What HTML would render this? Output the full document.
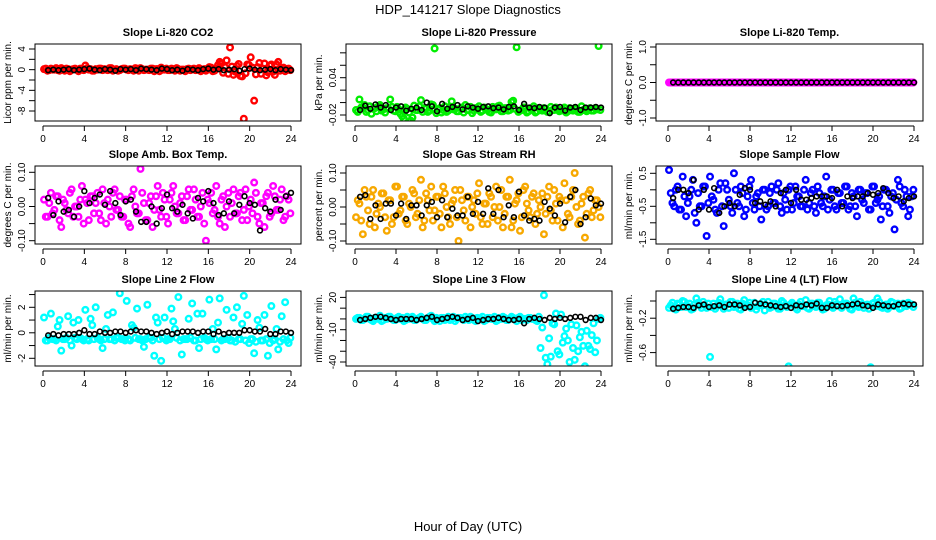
<!DOCTYPE html>
<html><head><meta charset="utf-8">
<style>
html,body{margin:0;padding:0;background:#fff;}
svg{display:block;font-family:"Liberation Sans",Arial,sans-serif;}
</style></head>
<body>
<svg id="fig" width="936" height="540" viewBox="0 0 936 540">
<rect x="0" y="0" width="936" height="540" fill="#fff"/>
<text x="468" y="14" text-anchor="middle" font-size="13">HDP_141217  Slope Diagnostics</text>
<text x="468" y="531" text-anchor="middle" font-size="13">Hour of Day (UTC)</text>
</svg>
<script>
// ---- data ----
const xTicks = [0,4,8,12,16,20,24];
const co2Color = [0.1,-0.2,0.2,0,-0.1,0.3,-0.2,0.1,0,0.2,-0.3,0.1,0.8,0,-0.2,0.1,0.2,-0.1,0,0.3,-0.2,0.1,-0.1,0.2,0,0.1,-0.2,0.2,0.3,-0.1,0,0.2,-0.3,0.1,0.4,0,-0.1,0.2,-0.2,0.1,0,-0.3,0.2,0.1,-0.1,0.3,0,-0.2,0.5,-0.3,0.2,1.5,-0.6,1.8,4.3,-1.0,0.7,-1.2,-9.5,1.0,2.4,-6.0,0.5,-0.8,1.2,-0.5,1.0,-1.0,1.5,0.3,-0.3,0.2];
const co2Color2 = [0.2,-0.1,0,0.3,-0.2,0.1,0.2,-0.3,0.1,0, 0.2,-0.1,0.3,0.1,-0.2,0,0.2,0.1,-0.1,0.3, 0,-0.2,0.1,0.2,-0.1,0,0.3,-0.2,0.1,0, -0.1,0.2,0.1,-0.3,0,0.2,-0.1,0.1,0.3,-0.2, 0,0.1,-0.1,0.2,0,-0.3,0.1,0.2,0.4,-0.2, 0.9,1.2,0.5,-0.8,0.6,-0.4,1.1,-1.3,-0.7,0.9, 0.4,-0.9,1.3,0.2,-1.1,0.8,-0.4,1.0,-0.2,0.4, 0.1,-0.1];
const co2Black = [-0.1,0,-0.1,0,0.1,-0.1,0,0.1,0.2,0,-0.1,0.1,0,-0.2,0.1,0,0.1,-0.1,0.2,0.1,0,-0.1,0.2,0.1,-0.1,0,-0.2,0.1,0,-0.1,0.1,0.2,0,0.1,-0.1,0,0.1,-0.2,0.1,0.2,0,-0.1,0,0.1,-0.1,0.1,0,-0.1];
const presColor = [-.012,.005,-.008,-.015,-.006,-.010,-.014,-.004,-.011,-.009,.005,-.013,-.007,-.018,-.026,-.010,-.029,-.005,-.012,.004,-.009,-.015,-.003,.087,-.011,-.016,-.006,-.013,.002,-.010,-.014,-.008,-.004,-.012,-.017,-.009,-.006,-.013,-.010,-.015,-.007,-.011,-.005,-.014,-.009,-.012,.003,.089,-.013,-.008,-.016,-.010,-.006,-.014,-.011,-.009,-.015,-.007,-.012,-.010,-.013,-.008,-.014,-.011,-.009,-.015,-.006,-.012,-.010,-.013,-.009,.091];
const presColor2 = [-.015,-.008,-.004,-.012,-.018,-.009,-.006,-.013,-.016,-.010, -.007,-.014,-.011,-.022,-.008,-.016,-.024,-.012,-.006,-.015, -.010,-.013,-.004,-.017,-.009,-.012,-.015,-.007,-.011,-.014, -.009,-.016,-.012,-.007,-.013,-.010,-.015,-.008,-.012,-.016, -.011,-.006,-.014,-.009,-.013,.001,-.010,-.015,-.012,-.008, -.014,-.011,-.016,-.009,-.013,-.010,-.015,-.012,-.008,-.014, -.011,-.016,-.009,-.013,-.010,-.015,-.012,-.014,-.009,-.013, -.011,-.012];
const presBlack = [-.012,-.005,-.010,-.003,-.008,-.004,-.012,-.008,-.006,-.013,-.010,-.008,-.012,.000,-.006,-.014,-.002,-.010,-.007,-.004,-.011,-.006,-.008,-.010,-.007,-.006,-.009,-.008,-.011,-.007,-.006,-.012,-.002,-.008,-.009,-.007,-.008,-.017,-.008,-.007,-.013,-.008,-.007,-.012,-.008,-.008,-.007,-.008];
const tempColor = [0,0,0,0,0,0,0,0,0,0,0,0,0,0,0,0,0,0,0,0,0,0,0,0,0,0,0,0,0,0,0,0,0,0,0,0,0,0,0,0,0,0,0,0,0,0,0,0,0,0,0,0,0,0,0,0,0,0,0,0,0,0,0,0,0,0,0,0,0,0,0,0];
const tempColor2 = [0,0,0,0,0,0,0,0,0,0,0,0,0,0,0,0,0,0,0,0,0,0,0,0,0,0,0,0,0,0,0,0,0,0,0,0,0,0,0,0,0,0,0,0,0,0,0,0,0,0,0,0,0,0,0,0,0,0,0,0,0,0,0,0,0,0,0,0,0,0,0,0];
const tempBlack = [0,0,0,0,0,0,0,0,0,0,0,0,0,0,0,0,0,0,0,0,0,0,0,0,0,0,0,0,0,0,0,0,0,0,0,0,0,0,0,0,0,0,0,0,0,0,0,0];
const ambColor = [.02,-.03,.04,-.01,.03,-.06,.01,-.02,.05,.00,-.03,.06,.02,-.04,.03,.01,-.02,.05,-.05,.00,.04,-.01,.03,-.03,.02,-.06,.05,-.02,.11,.01,-.04,.03,-.01,.06,-.03,.02,-.05,.04,.00,-.02,.03,-.04,.05,-.01,.02,-.03,.04,-.10,.01,-.02,.06,-.05,.03,.00,-.03,.05,-.02,.04,-.01,-.04,.02,.07,-.03,.01,-.06,.04,-.02,.03,-.01,.05,-.03,.02];
const ambColor2 = [-.03,.01,-.02,.03,-.04,.02,-.01,.04,-.03,.00, .02,-.05,.01,.03,-.02,.04,-.04,.01,.02,-.03, .05,-.01,-.03,.02,-.05,.03,.00,-.02,.04,-.04, .01,-.06,.03,-.01,.04,-.03,.02,.06,-.02,.01, -.04,.03,-.01,.05,-.03,.00,-.05,.02,.04,-.01, -.03,.02,-.06,.04,.01,-.02,.03,-.04,.05,.00, -.02,.04,-.05,.01,.03,-.03,.06,-.01,.02,-.04, .03,-.02];
const ambBlack = [.025,-.025,.015,-.015,-.01,-.03,.00,.045,.01,.025,.035,.005,.045,.01,-.025,.015,.02,-.015,-.045,-.045,.00,-.05,-.005,.035,-.005,-.015,.005,-.02,-.035,.025,.015,.045,.01,-.025,-.02,.015,-.02,.005,.03,.01,.005,-.07,-.005,-.015,.02,-.01,.03,.04];
const rhColor = [-.03,.01,-.08,.03,-.05,.05,-.02,.00,.04,-.07,.02,-.03,.06,-.01,.03,-.05,.00,.04,-.02,.08,-.04,.02,.06,-.01,.03,-.06,.04,-.03,.01,.05,-.10,.02,-.04,.03,.00,-.02,.07,-.05,.01,.04,-.03,.06,.00,-.06,.03,.08,-.04,.02,-.07,.05,.01,-.03,.04,-.02,.00,-.08,.03,-.01,.05,-.04,.02,.07,-.02,.03,.10,-.05,.01,-.09,.04,-.03,.02,.00];
const rhColor2 = [.02,-.04,.05,-.01,.03,-.06,.01,.04,-.03,.02, -.05,.06,-.02,.03,-.04,.01,.05,-.03,.02,-.06, .04,-.01,-.04,.03,-.02,.06,.00,-.05,.02,-.03, .05,-.01,.03,-.06,.02,.04,-.03,.01,-.05,.03, .00,-.04,.05,-.02,.03,-.06,.01,.04,-.03,.06, -.01,.03,-.05,.02,.04,-.02,.06,-.04,.01,.03, -.06,.02,-.03,.05,.00,-.04,.03,-.02,.05,-.01, .02,-.03];
const rhBlack = [.03,.035,-.035,.005,-.035,.01,.01,-.025,.01,-.035,.005,.005,-.025,.005,.015,-.03,.02,-.03,-.005,-.025,-.025,.03,-.02,.015,-.02,.055,-.02,.05,-.03,.005,-.03,.045,-.025,-.04,-.035,-.04,.015,-.005,-.025,.01,-.045,.03,.05,-.05,-.03,.025,.005,.01];
const flowColor = [.6,-.4,.0,-.6,.4,-.8,-.2,.3,-1.0,-.5,.1,-1.4,.4,-.3,-.7,.2,-1.1,.0,-.5,.5,-.4,.1,-.8,-.2,.3,-.6,-.1,-.9,.0,-.5,.1,-.4,.2,-.7,-.3,.0,-.6,.1,-.2,-.5,.3,-.4,.0,-.7,-.1,-.5,.4,-.3,.0,-.6,-.1,-.4,.1,-.5,-.2,-.8,.0,-.4,-.1,-.6,.1,-.3,-.9,.0,-.5,-.2,-1.2,.3,-.4,.0,-.8,-.2];
const flowColor2 = [-.1,-.5,.1,-.6,-.2,-.4,.0,-.7,-.1,-.5, .1,-.4,-.2,-.6,.0,-.5,.2,-.3,-.7,.0, -.5,-.1,-.6,.1,-.4,-.2,-.5,.0,-.6,-.1, -.4,.0,-.5,-.1,-.6,.1,-.4,-.2,-.5,.0, -.6,-.1,-.5,.1,-.4,-.2,-.6,.0,-.5,-.1, -.4,.1,-.6,-.1,-.5,.0,-.3,-.1,-.6,.1, -.4,-.2,-.5,.0,-.7,-.1,-.3,.1,-.5,-.2, -.6,.0];
const flowBlack = [-.25,.0,.0,-.1,.3,-.6,.0,-.6,.05,-.7,-.5,-.4,-.5,-.15,.05,.0,-.4,-.35,-.45,-.35,-.5,-.1,.0,-.4,.0,-.3,-.3,-.25,-.2,-.2,-.2,-.25,.0,-.5,-.2,-.25,-.2,-.2,-.1,-.15,-.1,.05,-.1,-.25,-.2,-.35,-.25,-.2];
const line2Color = [1.2,-.6,1.5,-.5,.5,-1.4,-.5,1.3,-1.0,-.4,1.0,-.5,1.8,-.6,.6,2.0,-.5,-1.2,.3,-.5,1.6,-.4,3.1,-.5,2.5,-.6,.4,1.9,-.5,-1.1,2.2,-.4,-1.8,.8,-2.2,1.2,-.5,1.9,.3,2.8,-1.7,-.5,1.1,2.3,-.6,-1.2,1.5,-.5,2.6,.3,-1.3,2.7,-.5,1.8,-.6,1.2,2.0,-.5,2.9,1.4,-.5,-1.6,1.0,-.6,1.4,-1.8,2.1,-.5,-1.3,1.3,2.4,-.8];
const line2Color2 = [-.6,-.4,-.5,-.6,1.0,-.5,-.4,-.6,.8,-.5, -.4,-.6,-.5,1.1,-.5,-.4,-.6,-.5,1.4,-.5, -.6,-.4,-.5,-.6,-.5,.6,-.4,-.5,-.6,-.5, -.4,-.6,1.2,-.5,-.4,-.6,-.5,.9,-.4,-.6, -.5,-.5,-.4,-.6,1.5,-.5,-.4,-.6,-.5,-.5, .8,-.6,-.5,-.4,-.6,-.7,-.5,.7,-.6,-.8, -.5,-.7,.4,-.6,-.5,-.8,-.6,.3,-.7,-.5, -.6,-.4];
const line2Black = [-.2,-.1,-.2,-.1,-.1,-.1,0,.2,-.1,-.1,.1,.0,0,.1,.1,0,.1,.2,.1,.1,0,-.1,0,.1,-.1,0,.1,.1,.1,0,.1,.1,-.1,.1,-.1,0,0,0,.2,.2,.1,.1,.3,-.1,-.1,.1,.1,0];
const line3Color = [0,1,-1,2,0,-2,1,3,-1,0,2,-1,1,0,-2,2,1,-1,0,2,-1,1,3,-2,0,1,-1,2,0,-2,1,0,2,-1,1,-2,0,2,-1,1,0,-2,1,2,-1,0,1,-2,2,0,-1,1,0,-2,-27,22,-42,-35,-5,-30,4,-16,-20,-5,-38,-30,-12,-44,-25,-15,-31,0];
const line3Color2 = [1,-1,0,2,-1,1,0,-2,1,2, 0,-1,2,1,-1,0,2,-1,1,0, -1,2,0,1,-2,1,0,-1,2,0, 1,-1,0,2,-1,1,0,-2,1,0, 2,-1,0,1,-1,2,0,1,-1,0, 1,0,-1,2,-8,-36,-18,-4,5,-33, -22,-9,-40,-27,-6,-17,-25,-11,-28,-4, -20,1];
const line3Black = [-1,0,1,2,2,1,0,-1,0,0,0,-1,0,1,2,-1,0,1,2,1,-1,0,1,-2,-1,0,0,1,0,-1,-1,0,-4,0,1,0,-1,1,0,1,0,1,2,2,-1,1,1,-1];
const line4Color = [-.08,-.02,-.10,-.04,.00,-.07,-.03,-.09,.03,-.05,-.01,-.08,-.65,-.03,-.06,.02,-.09,-.04,-.01,-.07,-.03,-.10,.01,-.05,-.08,-.02,-.06,-.04,-.11,-.01,-.07,-.03,-.09,.00,-.05,-.76,-.02,-.08,-.04,-.06,.01,-.09,-.03,-.07,-.02,-.10,-.05,.00,-.08,-.04,.02,-.06,-.03,-.09,.03,-.05,-.01,-.08,-.04,-.77,-.02,.03,-.07,-.05,-.09,-.01,-.06,-.03,-.08,-.05,-.02,-.04];
const line4Color2 = [-.05,-.09,-.03,-.07,-.01,-.06,-.10,-.04,-.02,-.08, -.05,-.03,-.07,-.09,-.02,-.06,-.04,-.08,-.01,-.05, -.09,-.03,-.06,-.02,-.07,-.10,-.04,-.01,-.05,-.08, -.03,-.06,-.09,-.02,-.07,-.04,-.05,-.10,-.01,-.06, -.08,-.03,-.05,-.02,-.07,-.09,-.04,-.06,-.01,-.05, -.08,-.03,-.06,-.10,-.02,-.07,-.04,-.05,-.09,-.03, -.06,-.01,-.08,-.04,-.07,-.02,-.05,-.09,-.03,-.06, -.04,-.07];
const line4Black = [-.09,-.08,-.07,-.07,-.08,-.05,-.04,-.07,-.06,-.05,-.07,-.04,-.04,-.05,-.08,-.07,-.02,-.03,-.04,-.05,-.06,-.07,-.06,-.08,-.05,-.06,-.04,-.05,-.03,-.08,-.08,-.05,-.06,-.06,-.05,-.04,-.03,-.05,-.06,-.08,-.04,-.05,-.06,-.06,-.04,-.03,-.04,-.04];
const ticks1 = [4,2,0,-2,-4,-6,-8]; const labels1 = ["4","","0","","-4","","-8"];
const ticks2 = [.08,.06,.04,.02,0,-.02]; const labels2 = ["","","0.04","","","-0.02"];
const ticks3 = [1,.5,0,-.5,-1]; const labels3 = ["1.0","","0.0","","-1.0"];
const ticks4 = [.1,.05,0,-.05,-.1]; const labels4 = ["0.10","","0.00","","-0.10"];
const ticks6 = [.5,0,-.5,-1,-1.5]; const labels6 = ["0.5","","-0.5","","-1.5"];
const ticks7 = [3,2,1,0,-1,-2]; const labels7 = ["","2","","0","","-2"];
const ticks8 = [20,10,0,-10,-20,-30,-40]; const labels8 = ["20","","","-10","","","-40"];
const ticks9 = [0,-.2,-.4,-.6]; const labels9 = ["","-0.2","","-0.6"];

const NS = "http://www.w3.org/2000/svg";
const svg = document.getElementById('fig');
function mk(tag, attrs, parent){ const e=document.createElementNS(NS,tag); for(const k in attrs) e.setAttribute(k,attrs[k]); (parent||svg).appendChild(e); return e; }

const cols = [{x:35,w:266,x0:43,x24:291},{x:346,w:266,x0:355,x24:601},{x:656,w:267,x0:668,x24:914}];
const rows = [{y:44,h:77},{y:166,h:78},{y:291,h:75}];

const panels = [
 {key:'co2',title:'Slope Li-820 CO2',yl:'Licor ppm per min.',c:0,r:0,v1:4,p1:49,v2:-8,p2:111,ticks:ticks1,labels:labels1,color:'#ff0000',col:co2Color,col2:co2Color2,blk:co2Black},
 {key:'pressure',title:'Slope Li-820 Pressure',yl:'kPa per min.',c:1,r:0,v1:.04,p1:77.7,v2:-.02,p2:115,ticks:ticks2,labels:labels2,color:'#00ee00',col:presColor,col2:presColor2,blk:presBlack},
 {key:'temp',title:'Slope Li-820 Temp.',yl:'degrees C per min.',c:2,r:0,v1:1,p1:47,v2:-1,p2:118,ticks:ticks3,labels:labels3,color:'#ff00ff',col:tempColor,col2:tempColor2,blk:tempBlack},
 {key:'amb-box-temp',title:'Slope Amb. Box Temp.',yl:'degrees C per min.',c:0,r:1,v1:.1,p1:172.3,v2:-.1,p2:240.7,ticks:ticks4,labels:labels4,color:'#ff00ff',col:ambColor,col2:ambColor2,blk:ambBlack},
 {key:'gas-stream-rh',title:'Slope Gas Stream RH',yl:'percent per min.',c:1,r:1,v1:.1,p1:173,v2:-.1,p2:241,ticks:ticks4,labels:labels4,color:'#f7a800',col:rhColor,col2:rhColor2,blk:rhBlack},
 {key:'sample-flow',title:'Slope Sample Flow',yl:'ml/min per min.',c:2,r:1,v1:.5,p1:173.3,v2:-1.5,p2:239.3,ticks:ticks6,labels:labels6,color:'#0000ff',col:flowColor,col2:flowColor2,blk:flowBlack},
 {key:'line2-flow',title:'Slope Line 2 Flow',yl:'ml/min per min.',c:0,r:2,v1:2,p1:307.3,v2:-2,p2:358.3,ticks:ticks7,labels:labels7,color:'#00ffff',col:line2Color,col2:line2Color2,blk:line2Black},
 {key:'line3-flow',title:'Slope Line 3 Flow',yl:'ml/min per min.',c:1,r:2,v1:20,p1:297.4,v2:-40,p2:362,ticks:ticks8,labels:labels8,color:'#00ffff',col:line3Color,col2:line3Color2,blk:line3Black},
 {key:'line4-flow',title:'Slope Line 4 (LT) Flow',yl:'ml/min per min.',c:2,r:2,v1:0,p1:301,v2:-.6,p2:352.6,ticks:ticks9,labels:labels9,color:'#00ffff',col:line4Color,col2:line4Color2,blk:line4Black}
];

panels.forEach(P=>{
  const C=cols[P.c], R=rows[P.r];
  const g = mk('g',{});
  
  
  const xs = h => C.x0 + (C.x24 - C.x0) * h / 24;
  const ys = v => P.p1 + (P.p2 - P.p1) * (v - P.v1) / (P.v2 - P.v1);
  const cid='clip-'+P.key;
  const cp = mk('clipPath',{id:cid},g);
  mk('rect',{x:C.x,y:R.y,width:C.w,height:R.h},cp);
  const t = mk('text',{x:C.x+C.w/2,y:R.y-8,'text-anchor':'middle','font-size':'11','font-weight':'bold'},g);
  t.textContent=P.title;
  
  
  const pg = mk('g',{'clip-path':'url(#'+cid+')'},g);
  
  
  P.col.forEach((v,i)=>{
    const h = 0.1 + i/3;
    const c = mk('circle',{cx:xs(h),cy:ys(v),r:2.8,fill:'none',stroke:P.color,'stroke-width':2.4},pg);
    
    
  });
  P.col2.forEach((v,i)=>{
    const h = 0.27 + i/3;
    const c = mk('circle',{cx:xs(h),cy:ys(v),r:2.8,fill:'none',stroke:P.color,'stroke-width':2.4},pg);
    
    
  });
  P.blk.forEach((v,i)=>{
    const h = 0.5 + i*0.5;
    const c = mk('circle',{cx:xs(h),cy:ys(v),r:2.4,fill:'none',stroke:'#000','stroke-width':1.6},pg);
    
    
  });
  const b = mk('rect',{x:C.x,y:R.y,width:C.w,height:R.h,fill:'none',stroke:'#000','stroke-width':1},g);
  
  
  const by = R.y+R.h;
  const xa = mk('g',{},g);
  
  
  mk('line',{x1:xs(0),x2:xs(24),y1:by+5,y2:by+5,stroke:'#000'},xa);
  xTicks.forEach(h=>{
    mk('line',{x1:xs(h),x2:xs(h),y1:by+5,y2:by+10,stroke:'#000'},xa);
    const l = mk('text',{x:xs(h),y:by+21,'text-anchor':'middle','font-size':'10'},xa);
    l.textContent=String(h);
    
    
  });
  const ya = mk('g',{},g);
  
  
  const tmin=Math.min(...P.ticks), tmax=Math.max(...P.ticks);
  mk('line',{x1:C.x,x2:C.x,y1:ys(tmax),y2:ys(tmin),stroke:'#000'},ya);
  P.ticks.forEach((v,i)=>{
    const y=ys(v);
    mk('line',{x1:C.x-6,x2:C.x,y1:y,y2:y,stroke:'#000'},ya);
    if(P.labels[i]){
      const lx=C.x-10;
      const l = mk('text',{x:lx,y:y,'text-anchor':'middle','font-size':'10',transform:'rotate(-90 '+lx+' '+y+')'},ya);
      l.textContent=P.labels[i];
      
      
    }
  });
  const tx=C.x-24, ty=R.y+R.h/2;
  const yt = mk('text',{x:tx,y:ty,'text-anchor':'middle','font-size':'10',transform:'rotate(-90 '+tx+' '+ty+')'},g);
  yt.textContent=P.yl;
  
  
});
</script>
</body></html>
